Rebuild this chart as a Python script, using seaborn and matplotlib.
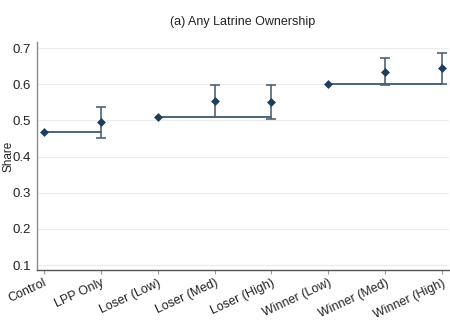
import matplotlib
matplotlib.use("Agg")
import matplotlib.pyplot as plt
import seaborn as sns
import pandas as pd
import numpy as np

categories = ["Control", "LPP Only", "Loser (Low)", "Loser (Med)", "Loser (High)",
              "Winner (Low)", "Winner (Med)", "Winner (High)"]
share = [0.467, 0.495, 0.510, 0.553, 0.550, 0.601, 0.634, 0.644]
ci_low = [None, 0.450, None, 0.509, 0.505, None, 0.597, 0.600]
ci_high = [None, 0.538, None, 0.598, 0.598, None, 0.671, 0.687]

# reference group for each comparison line: (start index, end index)
groups = [(0, 1), (2, 4), (5, 7)]
yticks = [0.1, 0.2, 0.3, 0.4, 0.5, 0.6, 0.7]

sns.set_theme(style="white")
plt.rcParams["font.family"] = ["Liberation Sans", "DejaVu Sans"]

df = pd.DataFrame({"pos": np.arange(len(categories)), "category": categories, "share": share})

fig = plt.figure(figsize=(4.5, 3.27), dpi=100)
ax = fig.add_axes([0.082, 0.174, 0.916, 0.698])

navy = "#1f3d5c"
bar_col = "#4f6379"

for y in yticks:
    ax.axhline(y, color="#ececec", lw=0.8, zorder=0)

# horizontal lines from each group's baseline
for s, e in groups:
    seg = pd.DataFrame({"pos": [s, e], "share": [share[s], share[s]]})
    sns.lineplot(data=seg, x="pos", y="share", ax=ax, color="#2d4a68", lw=1.2, zorder=2)

# confidence intervals
for i, (lo, hi) in enumerate(zip(ci_low, ci_high)):
    if lo is None:
        continue
    ax.errorbar(i, share[i], yerr=[[share[i] - lo], [hi - share[i]]], fmt="none",
                ecolor=bar_col, elinewidth=1.2, capsize=3.5, capthick=1.2, zorder=3)

sns.scatterplot(data=df, x="pos", y="share", ax=ax, marker="D", s=16, color=navy,
                edgecolor=navy, linewidth=0.5, zorder=4)

ax.set_xlim(-0.12, 7.12)
ax.set_ylim(0.086, 0.717)
ax.set_yticks(yticks)
ax.set_yticklabels([f"{v:.1f}" for v in yticks], fontsize=9.5, color="#222222")
ax.set_xticks(range(len(categories)))
ax.set_xticklabels(categories, rotation=25, ha="right", rotation_mode="anchor",
                   fontsize=9, color="#222222")
ax.tick_params(axis="x", length=3, width=0.8, color="#999999", pad=2, direction="out", bottom=True)
ax.tick_params(axis="y", length=0, pad=4)
ax.set_xlabel("")
ax.set_ylabel("Share", fontsize=8.5, color="#222222")
ax.yaxis.set_label_coords(-0.055, 0.5)
ax.set_title("(a) Any Latrine Ownership", fontsize=9, color="#222222", pad=12)

for side in ["top", "right"]:
    ax.spines[side].set_visible(False)
ax.spines["left"].set_color("#8a8a8a")
ax.spines["bottom"].set_color("#555555")
ax.spines["left"].set_linewidth(1.0)
ax.spines["bottom"].set_linewidth(1.0)
ax.grid(False)
if ax.get_legend():
    ax.get_legend().remove()

fig.savefig("out.png", dpi=100)
